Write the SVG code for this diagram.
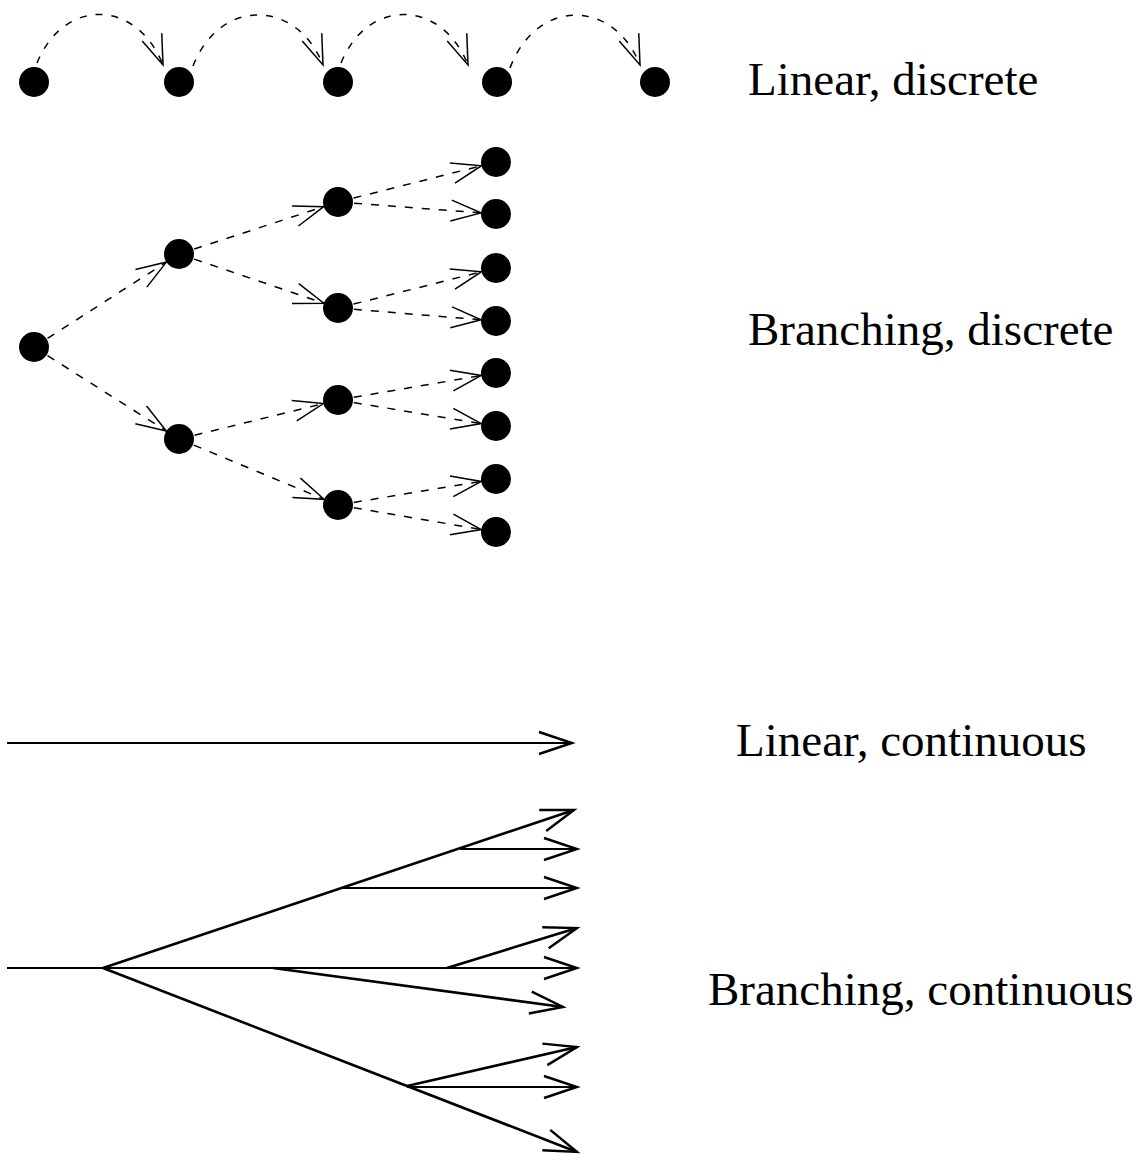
<svg xmlns="http://www.w3.org/2000/svg" width="1143" height="1162" viewBox="0 0 1143 1162">
  <style>
    .dot { fill: #000; }
    .dash { fill: none; stroke: #000; stroke-width: 1.5; stroke-dasharray: 8 9; marker-end: url(#openHead); }
    .arc { fill: none; stroke: #000; stroke-width: 1.5; stroke-dasharray: 7 9; marker-end: url(#openHead); }
    .thin { fill: none; stroke: #000; stroke-width: 2; marker-end: url(#solidHead); }
    .thick { fill: none; stroke: #000; stroke-width: 2.6; marker-end: url(#solidHead); }
    .plain { fill: none; stroke: #000; stroke-width: 2; }
    .label { font-family: "Liberation Serif", "Times New Roman", serif; font-size: 47px; fill: #000; }
  </style>
  <defs>
    <!-- open V head for dashed connectors -->
    <marker id="openHead" markerUnits="userSpaceOnUse" viewBox="-34 -16 38 32" refX="0" refY="0" markerWidth="38" markerHeight="32" orient="auto" overflow="visible">
      <path d="M-30,-10.5 L0,0 L-30,10.5" fill="none" stroke="#000" stroke-width="1.5" stroke-dasharray="none"/>
    </marker>
    <!-- heavier open V head for solid connectors -->
    <marker id="solidHead" markerUnits="userSpaceOnUse" viewBox="-40 -16 44 32" refX="0" refY="0" markerWidth="44" markerHeight="32" orient="auto" overflow="visible">
      <path d="M-33,-11 L0,0 L-33,11" fill="none" stroke="#000" stroke-width="2.4" stroke-dasharray="none"/>
    </marker>
  </defs>

  <rect width="1143" height="1162" fill="#fff"/>

  <!-- Linear, discrete -->
  <g id="connectors-linear-discrete">
    <path class="arc" d="M37,63 C64,-3 137,-1 163,65"/>
    <path class="arc" d="M193,66 C220,-3 297,-1 323,65"/>
    <path class="arc" d="M341,63 C368,-3 442,-1 468,65"/>
    <path class="arc" d="M510,68 C537,-3 614,-1 640,65"/>
  </g>
  <g id="ld-node-1"><circle class="dot" cx="34" cy="82" r="15"/></g>
  <g id="ld-node-2"><circle class="dot" cx="179" cy="82" r="15"/></g>
  <g id="ld-node-3"><circle class="dot" cx="338" cy="82" r="15"/></g>
  <g id="ld-node-4"><circle class="dot" cx="497" cy="82" r="15"/></g>
  <g id="ld-node-5"><circle class="dot" cx="655" cy="82" r="15"/></g>
  <g id="label-linear-discrete"><text class="label" x="748" y="95">Linear, discrete</text></g>

  <!-- Branching, discrete -->
  <g id="connectors-branching-discrete">
    <line class="dash" x1="47.5" y1="338.4" x2="166.4" y2="262.1"/>
    <line class="dash" x1="47.5" y1="355.6" x2="166.3" y2="431.0"/>
    <line class="dash" x1="194.2" y1="249.0" x2="323.7" y2="206.7"/>
    <line class="dash" x1="194.2" y1="259.1" x2="323.8" y2="303.2"/>
    <line class="dash" x1="194.5" y1="435.2" x2="323.4" y2="403.6"/>
    <line class="dash" x1="193.8" y1="445.1" x2="324.1" y2="499.3"/>
    <line class="dash" x1="353.5" y1="198.1" x2="481.5" y2="165.7"/>
    <line class="dash" x1="354.0" y1="203.2" x2="481.0" y2="212.9"/>
    <line class="dash" x1="353.5" y1="304.1" x2="481.5" y2="271.7"/>
    <line class="dash" x1="353.9" y1="309.3" x2="481.1" y2="319.8"/>
    <line class="dash" x1="353.8" y1="397.3" x2="481.2" y2="375.5"/>
    <line class="dash" x1="353.8" y1="402.6" x2="481.2" y2="423.6"/>
    <line class="dash" x1="353.8" y1="502.4" x2="481.2" y2="481.4"/>
    <line class="dash" x1="353.8" y1="507.7" x2="481.2" y2="529.5"/>
  </g>
  <g id="bd-root"><circle class="dot" cx="34" cy="347" r="15"/></g>
  <g id="bd-a"><circle class="dot" cx="179" cy="254" r="15"/></g>
  <g id="bd-b"><circle class="dot" cx="179" cy="439" r="15"/></g>
  <g id="bd-c"><circle class="dot" cx="338" cy="202" r="15"/></g>
  <g id="bd-d"><circle class="dot" cx="338" cy="308" r="15"/></g>
  <g id="bd-e"><circle class="dot" cx="338" cy="400" r="15"/></g>
  <g id="bd-f"><circle class="dot" cx="338" cy="505" r="15"/></g>
  <g id="bd-leaf-1"><circle class="dot" cx="496" cy="162" r="15"/></g>
  <g id="bd-leaf-2"><circle class="dot" cx="496" cy="214" r="15"/></g>
  <g id="bd-leaf-3"><circle class="dot" cx="496" cy="268" r="15"/></g>
  <g id="bd-leaf-4"><circle class="dot" cx="496" cy="321" r="15"/></g>
  <g id="bd-leaf-5"><circle class="dot" cx="496" cy="373" r="15"/></g>
  <g id="bd-leaf-6"><circle class="dot" cx="496" cy="426" r="15"/></g>
  <g id="bd-leaf-7"><circle class="dot" cx="496" cy="479" r="15"/></g>
  <g id="bd-leaf-8"><circle class="dot" cx="496" cy="532" r="15"/></g>
  <g id="label-branching-discrete"><text class="label" x="748" y="345">Branching, discrete</text></g>

  <!-- Linear, continuous -->
  <g id="connectors-linear-continuous">
    <line class="thin" x1="7" y1="743" x2="572" y2="743"/>
  </g>
  <g id="label-linear-continuous"><text class="label" x="736" y="756">Linear, continuous</text></g>

  <!-- Branching, continuous -->
  <g id="connectors-branching-continuous">
    <line class="plain" x1="7" y1="968" x2="103" y2="968"/>
    <line class="thin" x1="103" y1="968" x2="577" y2="968"/>
    <line class="thick" x1="103" y1="968" x2="574" y2="810"/>
    <line class="thin" x1="460" y1="849" x2="577" y2="849"/>
    <line class="thin" x1="341" y1="888" x2="577" y2="888"/>
    <line class="thick" x1="447" y1="968" x2="577" y2="928"/>
    <line class="thick" x1="273" y1="968" x2="563" y2="1007"/>
    <line class="thick" x1="103" y1="968" x2="577" y2="1152"/>
    <line class="thick" x1="407" y1="1086" x2="577" y2="1047"/>
    <line class="thin" x1="407" y1="1087" x2="577" y2="1087"/>
  </g>
  <g id="label-branching-continuous"><text class="label" x="708" y="1005">Branching, continuous</text></g>
</svg>
